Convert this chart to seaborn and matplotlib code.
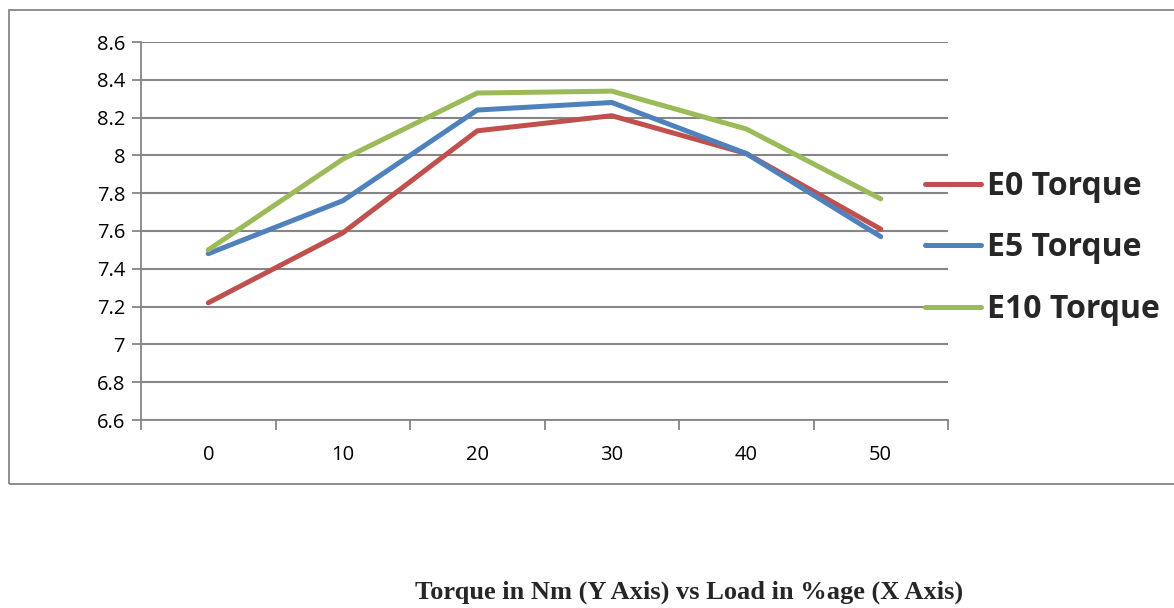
import matplotlib
matplotlib.use("Agg")
import matplotlib.pyplot as plt
import seaborn as sns
import pandas as pd
from matplotlib.patches import Rectangle
from matplotlib.ticker import FixedLocator
from matplotlib.lines import Line2D

loads = ["0", "10", "20", "30", "40", "50"]
e0_torque = [7.22, 7.59, 8.13, 8.21, 8.01, 7.61]
e5_torque = [7.48, 7.76, 8.24, 8.28, 8.01, 7.57]
e10_torque = [7.50, 7.98, 8.33, 8.34, 8.14, 7.77]
series_names = ["E0 Torque", "E5 Torque", "E10 Torque"]
yticks = [6.6, 6.8, 7.0, 7.2, 7.4, 7.6, 7.8, 8.0, 8.2, 8.4, 8.6]
ytick_labels = ["6.6", "6.8", "7", "7.2", "7.4", "7.6", "7.8", "8", "8.2", "8.4", "8.6"]
caption = "Torque in Nm (Y Axis) vs Load in %age (X Axis)"

rows = []
for name, vals in zip(series_names, [e0_torque, e5_torque, e10_torque]):
    for i, v in enumerate(vals):
        rows.append({"idx": i, "torque": v, "series": name})
df = pd.DataFrame(rows)

sns.set_style("white")
plt.rcParams['font.family'] = ['Open Sans', 'DejaVu Sans']

fig = plt.figure(figsize=(11.74, 6.08), dpi=100)
ax = fig.add_axes([141/1174, 1-420/608, (948-141)/1174, (420-42)/608])

palette = {"E0 Torque": "#C0504D", "E5 Torque": "#4F81BD", "E10 Torque": "#9BBB59"}
LW = 3.6
sns.lineplot(data=df, x="idx", y="torque", hue="series", palette=palette,
             linewidth=LW, ax=ax, legend=False, solid_capstyle="round", zorder=3)

ax.set_xlim(-0.5, 5.5)
ax.set_ylim(6.6, 8.6)
ax.set_yticks(yticks)
ax.set_yticklabels(ytick_labels)
ax.set_xticks(range(len(loads)))
ax.set_xticklabels(loads)
ax.xaxis.set_minor_locator(FixedLocator([i - 0.5 for i in range(len(loads) + 1)]))
ax.tick_params(axis="x", which="major", bottom=True, length=0, pad=18, labelsize=14.5, labelcolor="black")
ax.tick_params(axis="x", which="minor", bottom=True, length=7, width=1.3, color="#868686", direction="out")
ax.tick_params(axis="y", left=True, length=6.5, width=1.3, color="#868686", direction="out",
               labelsize=14.5, labelcolor="black", pad=5)
ax.set_xlabel("")
ax.set_ylabel("")
ax.grid(axis="y", color="#868686", linewidth=1.5, zorder=0)
ax.grid(axis="x", visible=False)
for s in ["top", "right"]:
    ax.spines[s].set_visible(False)
for s in ["left", "bottom"]:
    ax.spines[s].set_color("#868686")
    ax.spines[s].set_linewidth(1.3)

handles = [Line2D([0], [0], color=palette[n], lw=LW, solid_capstyle="round") for n in series_names]
leg = fig.legend(handles, series_names, loc="upper left", bbox_to_anchor=(925/1174, 1-170/608),
                 frameon=False, handlelength=1.75, handletextpad=0.2, labelspacing=0.89,
                 borderpad=0, borderaxespad=0,
                 prop={"family": ["Open Sans", "DejaVu Sans"], "weight": "bold", "size": 23})

fig.patches.append(Rectangle((9/1174, 1-484/608), 1.2, (484-10)/608, transform=fig.transFigure,
                             fill=False, edgecolor="#868686", linewidth=1.3, clip_on=False))

fig.text(689/1174, 1-592/608, caption, ha="center", va="center",
         family=["Liberation Serif", "DejaVu Serif"], weight="bold", fontsize=19)

fig.savefig("out.png", dpi=100)
